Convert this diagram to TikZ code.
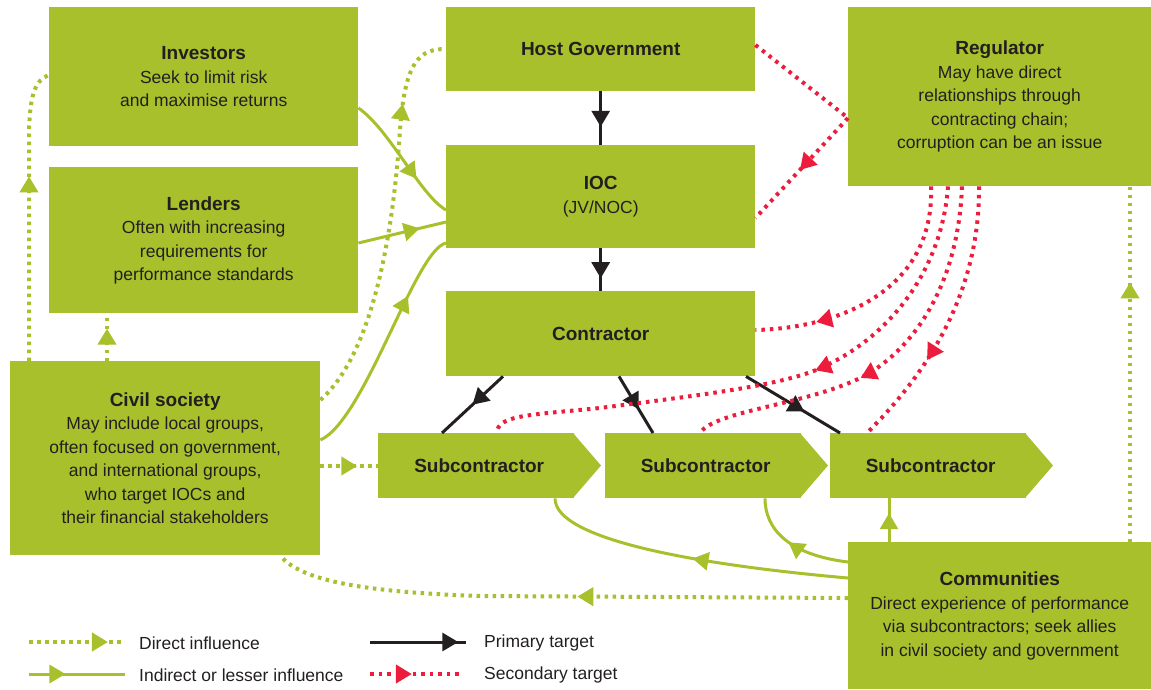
\documentclass[tikz,border=0pt]{standalone}
\usepackage{fontspec}
\setmainfont{Liberation Sans}
\usetikzlibrary{arrows.meta,decorations.markings,calc}

\definecolor{leaf}{HTML}{A8C02C}
\definecolor{alert}{HTML}{EC1C3D}
\definecolor{ink}{HTML}{231F20}

\newcommand{\boxtitle}[1]{{\fontsize{19}{23.5}\selectfont\bfseries #1}}

\tikzset{
  box/.style={fill=leaf, text=ink, inner sep=0pt, align=center, anchor=north west,
    font=\fontsize{17.5}{23.5}\selectfont},
  legendtext/.style={text=ink, inner sep=0pt, anchor=west, font=\fontsize{17.5}{23.5}\selectfont},
  midarrow/.style={postaction={decorate}, decoration={markings,
    mark=at position #1 with {\arrow{Triangle[length=16pt,width=18pt]}}}},
  primary/.style={color=ink, line width=3pt, midarrow=#1},
  primary/.default=0.5,
  indirect/.style={color=leaf, line width=3pt, midarrow=#1},
  indirect/.default=0.5,
  directline/.style={color=leaf, line width=4pt, dash pattern=on 3.5pt off 4.5pt},
  direct/.style={directline, midarrow=#1},
  direct/.default=0.5,
  secline/.style={color=alert, line width=4pt, dash pattern=on 3.5pt off 5pt},
  secondary/.style={secline, midarrow=#1},
  secondary/.default=0.5,
}

\begin{document}
\begin{tikzpicture}[x=1pt,y=-1pt]
\useasboundingbox (0,0) rectangle (1151,689);

% actors
\node[box, minimum width=309pt, minimum height=139pt] (inv) at (49,7)
  {\boxtitle{Investors}\\Seek to limit risk\\and maximise returns};
\node[box, minimum width=309pt, minimum height=146pt] (lend) at (49,167)
  {\boxtitle{Lenders}\\Often with increasing\\requirements for\\performance standards};
\node[box, minimum width=309pt, minimum height=84pt] (hg) at (446,7)
  {\boxtitle{Host Government}};
\node[box, minimum width=309pt, minimum height=103pt] (ioc) at (446,145)
  {\boxtitle{IOC}\\(JV/NOC)};
\node[box, minimum width=309pt, minimum height=85pt] (con) at (446,291)
  {\boxtitle{Contractor}};
\node[box, minimum width=303pt, minimum height=179pt] (reg) at (848,7)
  {\boxtitle{Regulator}\\May have direct\\relationships through\\contracting chain;\\corruption can be an issue};
\node[box, minimum width=310pt, minimum height=194pt] (civ) at (10,361)
  {\boxtitle{Civil society}\\May include local groups,\\often focused on government,\\and international groups,\\who target IOCs and\\their financial stakeholders};
\node[box, minimum width=303pt, minimum height=147pt] (com) at (848,542)
  {\boxtitle{Communities}\\Direct experience of performance\\via subcontractors; seek allies\\in civil society and government};

% subcontractors: box plus pointed end
\foreach \s/\x in {s1/378,s2/605,s3/830}{
  \fill[leaf] ($(\x,433)+(195,0)$) -- ($(\x,465.5)+(223,0)$) -- ($(\x,498)+(195,0)$) -- cycle;
}
\node[box, minimum width=196pt, minimum height=65pt] (s1) at (378,433) {\hspace{6pt}\boxtitle{Subcontractor}};
\node[box, minimum width=196pt, minimum height=65pt] (s2) at (605,433) {\hspace{5pt}\boxtitle{Subcontractor}};
\node[box, minimum width=196pt, minimum height=65pt] (s3) at (830,433) {\hspace{5pt}\boxtitle{Subcontractor}};

% primary targets
\draw[primary=0.66] (hg) -- (ioc);
\draw[primary=0.7] (ioc) -- (con);
\draw[primary=0.5] (con.south -| 503,0) -- (s1.north -| 442,0);
\draw[primary=0.58] (con.south -| 619,0) -- (s2.north -| 653,0);
\draw[primary=0.62] (con.south -| 746,0) -- (s3.north -| 840,0);

% indirect or lesser influence
\draw[indirect=0.68] (inv.east |- 0,108) .. controls (390,130) and (420,195) .. (ioc.west |- 0,210);
\draw[indirect=0.7] (lend.east |- 0,243) -- (ioc.west |- 0,222);
\draw[indirect=0.72] (civ.east |- 0,440) .. controls (365,420) and (415,250) .. (ioc.west |- 0,243);
\draw[indirect=0.5] (com.west |- 0,578) .. controls (700,565) and (555,540) .. (s1.south -| 555,0);
\draw[indirect=0.55] (com.west |- 0,562) .. controls (790,555) and (765,530) .. (s2.south -| 765,0);
\draw[indirect=0.66] (com.north -| 889,0) -- (s3.south -| 889,0);

% direct influence
\draw[direct=0.63] (civ.north -| 29,0) -- (29,140) .. controls (29,95) and (35,80) .. (inv.west |- 0,75);
\draw[direct=0.68] (civ.north -| 107,0) -- (lend.south -| 107,0);
\draw[direct=0.8] (civ.east |- 0,400) .. controls (360,365) and (390,280) .. (400,130)
  .. controls (405,60) and (420,49) .. (hg.west |- 0,49);
\draw[direct=0.64] (civ.east |- 0,466) -- (s1.west |- 0,466);
\draw[direct=0.47] (com.west |- 0,598) -- (480,596) .. controls (360,592) and (300,580) .. (civ.south -| 280,0);
\draw[direct=0.73] (com.north -| 1130,0) -- (reg.south -| 1130,0);

% secondary targets
\draw[secline] (hg.east |- 0,45) -- (reg.west |- 0,118);
\draw[secondary=0.52] (reg.west |- 0,118) -- (ioc.east |- 0,218);
\draw[secondary=0.76] (reg.south -| 931,0) .. controls (935,290) and (840,328) .. (con.east |- 0,330);
\draw[secondary=0.42] (reg.south -| 948,0) .. controls (942,270) and (890,335) .. (827,365)
  .. controls (790,385) and (700,395) .. (600,408) .. controls (530,415) and (497,415) .. (s1.north -| 497,0);
\draw[secondary=0.57] (reg.south -| 962,0) .. controls (958,290) and (910,350) .. (866,375)
  .. controls (810,405) and (715,410) .. (s2.north -| 700,0);
\draw[secondary=0.66] (reg.south -| 979,0) .. controls (980,300) and (920,380) .. (s3.north -| 867,0);

% legend
\node[legendtext] (k1) at (139,643) {Direct influence};
\node[legendtext] (k2) at (139,675) {Indirect or lesser influence};
\node[legendtext] (k3) at (484,643) {Primary target};
\node[legendtext] (k4) at (484,675) {Secondary target};
\coordinate (k1a) at (29,642);  \coordinate (k1b) at (123,642);
\coordinate (k2a) at (29,674);  \coordinate (k2b) at (125,674);
\coordinate (k3a) at (370,642); \coordinate (k3b) at (466,642);
\coordinate (k4a) at (370,674); \coordinate (k4b) at (463,674);
\draw[direct=0.84] (k1a) -- (k1b);
\draw[indirect=0.38] (k2a) -- (k2b);
\draw[primary=0.92] (k3a) -- (k3b);
\draw[secondary=0.45] (k4a) -- (k4b);
\end{tikzpicture}
\end{document}
